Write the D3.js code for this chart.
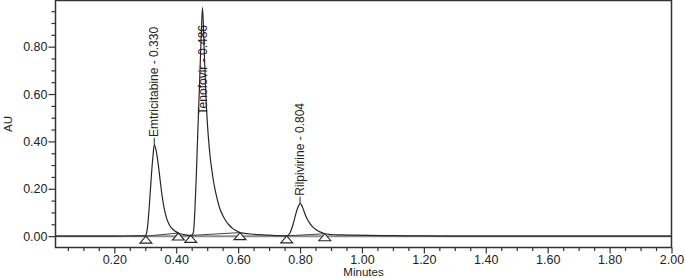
<!DOCTYPE html>
<html lang="en">
<head>
    <meta charset="UTF-8">
    <title>Chromatogram</title>
    <script src="https://cdn.jsdelivr.net/npm/d3@7/dist/d3.min.js"></script>
    <style>
        body{
            margin: 0;
            background: white;
        }
        svg text{
            font-family: "Liberation Sans", Arial, sans-serif;
            fill: #222;
        }
        .axis text{
            font-size: 12.5px;
        }
        .axis .tick line{
            stroke: #333;
            stroke-width: 1.2;
        }
        .axis path{
            display: none;
        }
        .peakLabel{
            font-size: 12px;
        }
    </style>
</head>
<body>
<svg id="main" width="685" height="278" viewBox="0 0 685 278"></svg>
<script>
    const width = 685, height = 278;
    const margin = {top: 0.5, right: 13.5, bottom: 30.5, left: 55.5};

    // detector trace (minutes, AU)
    const timeMin = [0.01, 0.10, 0.20, 0.27, 0.29, 0.298, 0.302, 0.306, 0.310, 0.315, 0.320, 0.325, 0.329, 0.335, 0.340,
        0.345, 0.350, 0.355, 0.360, 0.365, 0.370, 0.375, 0.380, 0.390, 0.400, 0.407, 0.415, 0.425, 0.435, 0.447,
        0.452, 0.456, 0.460, 0.465, 0.470, 0.475, 0.480, 0.485, 0.490, 0.495, 0.500, 0.505, 0.510, 0.515, 0.520,
        0.525, 0.530, 0.540, 0.550, 0.560, 0.570, 0.580, 0.590, 0.600, 0.606, 0.620, 0.640, 0.670, 0.700, 0.730,
        0.757, 0.762, 0.767, 0.772, 0.777, 0.782, 0.787, 0.792, 0.796, 0.800, 0.805, 0.810, 0.815, 0.820, 0.825,
        0.830, 0.840, 0.850, 0.860, 0.870, 0.880, 0.900, 0.930, 0.970, 1.020, 1.100, 1.200, 1.400, 1.700, 2.000];
    const absAU = [0.000, 0.000, 0.000, 0.001, 0.001, 0.001, 0.004, 0.025, 0.075, 0.165, 0.260, 0.340, 0.385, 0.362, 0.322,
        0.270, 0.215, 0.165, 0.125, 0.095, 0.072, 0.055, 0.043, 0.028, 0.018, 0.013, 0.009, 0.006, 0.004, 0.003,
        0.006, 0.020, 0.100, 0.260, 0.450, 0.630, 0.820, 0.965, 0.800, 0.620, 0.490, 0.400, 0.330, 0.280, 0.235,
        0.200, 0.170, 0.120, 0.088, 0.065, 0.048, 0.035, 0.026, 0.019, 0.015, 0.012, 0.009, 0.006, 0.004, 0.002,
        0.001, 0.004, 0.012, 0.028, 0.048, 0.072, 0.097, 0.118, 0.130, 0.137, 0.131, 0.115, 0.097, 0.081, 0.068,
        0.057, 0.040, 0.029, 0.021, 0.015, 0.010, 0.007, 0.005, 0.004, 0.003, 0.002, 0.001, 0.000, 0.000, 0.000];

    // peaks
    const peakNames = ["Emtricitabine", "Tenofovir", "Rilpivirine"];
    const peakRT = [0.330, 0.486, 0.804];

    // integration start / end markers (triangles), in pairs per peak
    const markTime = [0.302, 0.407, 0.447, 0.606, 0.757, 0.880];
    const markAU = [0.000, 0.013, 0.003, 0.015, 0.001, 0.010];

    const xMajor = [0.2, 0.4, 0.6, 0.8, 1.0, 1.2, 1.4, 1.6, 1.8, 2.0];
    const yMajor = [0.0, 0.2, 0.4, 0.6, 0.8];

    const trace = timeMin.map((t, i) => ({t: t, v: absAU[i]}));

    const xScale = d3.scaleLinear()
        .domain([0.01, 2.0])
        .range([margin.left, width - margin.right]);
    const yScale = d3.scaleLinear()
        .domain([-0.048, 0.995])
        .range([height - margin.bottom, margin.top]);

    const svg = d3.select("svg#main");

    svg.append("defs").append("clipPath").attr("id", "plotClip")
        .append("rect")
        .attr("x", margin.left).attr("y", margin.top)
        .attr("width", width - margin.left - margin.right)
        .attr("height", height - margin.top - margin.bottom);

    // minor ticks every 0.05
    const xMinor = d3.range(1, 40).map(i => i * 0.05).filter(d => Math.abs(d * 5 - Math.round(d * 5)) > 1e-6);
    const yMinor = d3.range(1, 20).map(i => i * 0.05).filter(d => Math.abs(d * 5 - Math.round(d * 5)) > 1e-6);

    svg.append("g").attr("class", "axis")
        .attr("transform", `translate(0,${height - margin.bottom})`)
        .call(d3.axisBottom(xScale).tickValues(xMinor).tickSize(3.5).tickFormat(""));
    svg.append("g").attr("class", "axis")
        .attr("transform", `translate(0,${height - margin.bottom})`)
        .call(d3.axisBottom(xScale).tickValues(xMajor).tickSize(6).tickPadding(2).tickFormat(d3.format(".2f")));

    svg.append("g").attr("class", "axis")
        .attr("transform", `translate(${margin.left},0)`)
        .call(d3.axisLeft(yScale).tickValues(yMinor).tickSize(4).tickFormat(""));
    svg.append("g").attr("class", "axis")
        .attr("transform", `translate(${margin.left},0)`)
        .call(d3.axisLeft(yScale).tickValues(yMajor).tickSize(7).tickPadding(1).tickFormat(d3.format(".2f")));

    // zero line
    svg.append("line")
        .attr("x1", xScale.range()[0]).attr("x2", xScale.range()[1])
        .attr("y1", yScale(0)).attr("y2", yScale(0))
        .attr("stroke", "#8c8c8c").attr("stroke-width", 2);

    const plot = svg.append("g").attr("clip-path", "url(#plotClip)");

    // integration baselines
    const pairs = d3.range(0, markTime.length, 2);
    plot.selectAll(".baseLine").data(pairs).enter().append("line")
        .attr("x1", i => xScale(markTime[i])).attr("y1", i => yScale(markAU[i]))
        .attr("x2", i => xScale(markTime[i + 1])).attr("y2", i => yScale(markAU[i + 1]))
        .attr("stroke", "#444").attr("stroke-width", 1);

    const line = d3.line()
        .x(d => xScale(d.t))
        .y(d => yScale(d.v))
        .curve(d3.curveMonotoneX);
    plot.append("path")
        .datum(trace)
        .attr("fill", "none")
        .attr("stroke", "#262626")
        .attr("stroke-width", 1.2)
        .attr("d", line);

    // triangles
    svg.selectAll(".mark").data(markTime).enter().append("path")
        .attr("d", (t, i) => {
            const x = xScale(t), y = yScale(markAU[i]);
            return `M${x},${y}L${x + 6},${y + 7}L${x - 6},${y + 7}Z`;
        })
        .attr("fill", "white").attr("stroke", "#262626").attr("stroke-width", 1.1);

    // peak labels
    peakRT.forEach((rt, i) => {
        const near = trace.filter(d => Math.abs(d.t - rt) < 0.02);
        const apex = near.reduce((a, b) => b.v > a.v ? b : a);
        const ax = xScale(apex.t), ay = yScale(apex.v);
        const label = svg.append("text")
            .attr("class", "peakLabel")
            .attr("dy", "0.35em")
            .text(`${peakNames[i]} - ${rt.toFixed(3)}`);
        const len = label.node().getComputedTextLength();
        const start = Math.max(ay - 8, 25 + len);
        label.attr("transform", `translate(${ax},${start}) rotate(-90)`);
        if (start < ay) {
            svg.append("line")
                .attr("x1", ax).attr("x2", ax)
                .attr("y1", ay).attr("y2", start + 1)
                .attr("stroke", "#262626").attr("stroke-width", 1);
        }
    });

    // frame
    svg.append("rect")
        .attr("x", margin.left).attr("y", margin.top)
        .attr("width", width - margin.left - margin.right)
        .attr("height", height - margin.top - margin.bottom)
        .attr("fill", "none").attr("stroke", "#333").attr("stroke-width", 1.5);

    // axis titles
    svg.append("text")
        .attr("x", (xScale.range()[0] + xScale.range()[1]) / 2)
        .attr("y", height - 2)
        .attr("text-anchor", "middle")
        .attr("font-size", "11.5px")
        .text("Minutes");
    svg.append("text")
        .attr("transform", `translate(12,${(yScale.range()[0] + yScale.range()[1]) / 2}) rotate(-90)`)
        .attr("text-anchor", "middle")
        .attr("font-size", "11.5px")
        .text("AU");
</script>
</body>
</html>
